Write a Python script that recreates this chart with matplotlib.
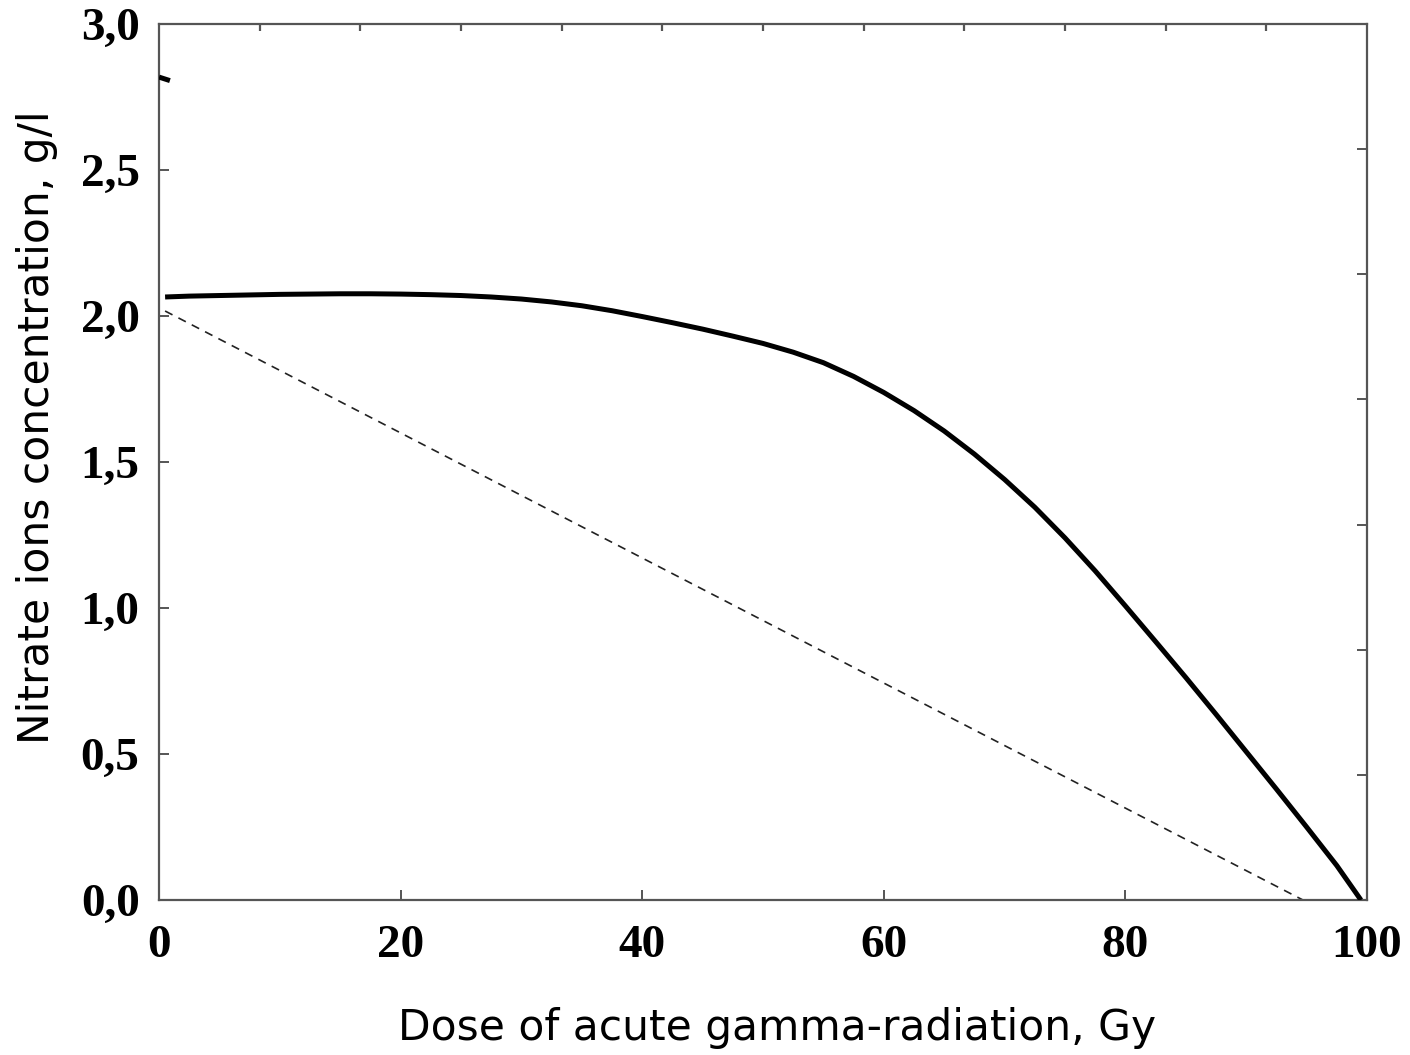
import matplotlib
matplotlib.use("Agg")
import matplotlib.pyplot as plt
import numpy as np

# Data
dose_solid = [0.5, 2.5, 5, 7.5, 10, 12.5, 15, 17.5, 20, 22.5, 25, 27.5, 30, 32.5, 35, 37.5,
              40, 42.5, 45, 47.5, 50, 52.5, 55, 57.5, 60, 62.5, 65, 67.5, 70, 72.5, 75,
              77.5, 80, 82.5, 85, 87.5, 90, 92.5, 95, 97.5, 99.5]
conc_solid = [2.065, 2.068, 2.07, 2.072, 2.074, 2.075, 2.076, 2.076, 2.075, 2.073, 2.07, 2.065,
              2.058, 2.048, 2.035, 2.018, 1.998, 1.977, 1.955, 1.931, 1.906, 1.876, 1.840,
              1.793, 1.738, 1.676, 1.606, 1.527, 1.44, 1.345, 1.24, 1.127, 1.007, 0.885,
              0.762, 0.636, 0.508, 0.38, 0.25, 0.118, 0.0]

dose_dashed = [0.5, 94.7]
conc_dashed = [2.017, 0.0]

dose_frag = [0.0, 0.9]
conc_frag = [2.818, 2.806]

x_ticks = [0, 20, 40, 60, 80, 100]
x_ticklabels = ["0", "20", "40", "60", "80", "100"]
y_ticks = [0.0, 0.5, 1.0, 1.5, 2.0, 2.5, 3.0]
y_ticklabels = ["0,0", "0,5", "1,0", "1,5", "2,0", "2,5", "3,0"]

fig = plt.figure(figsize=(14.1, 10.55), dpi=100)
fig.patch.set_facecolor("white")
ax = fig.add_axes([0.1128, 0.1469, 0.9695 - 0.1128, 0.9773 - 0.1469])

ax.plot(dose_solid, conc_solid, color="black", lw=3.6, solid_capstyle="butt",
        solid_joinstyle="round", zorder=3)
ax.plot(dose_dashed, conc_dashed, color="#222222", lw=1.2, dashes=(5, 4), zorder=2)
ax.plot(dose_frag, conc_frag, color="black", lw=3.6, solid_capstyle="butt", zorder=3)

ax.set_xlim(0, 100)
ax.set_ylim(0, 3)

spine_col = "#555555"
for s in ax.spines.values():
    s.set_color(spine_col)
    s.set_linewidth(1.6)

serif = {"family": "Liberation Serif", "weight": "bold", "size": 34}
ax.set_xticks(x_ticks)
ax.set_xticklabels(x_ticklabels, fontdict=serif)
ax.set_yticks(y_ticks)
ax.set_yticklabels(y_ticklabels, fontdict=serif)
ax.tick_params(axis="both", direction="in", length=7, width=1.4, color=spine_col)
ax.tick_params(axis="x", pad=18)
ax.tick_params(axis="y", pad=14)

# top and right secondary ticks
top = ax.secondary_xaxis("top")
top.set_xticks(np.linspace(0, 100, 13)[1:-1])
top.tick_params(direction="in", length=5, width=1.6, color=spine_col, labeltop=False)
top.spines["top"].set_visible(False)
right = ax.secondary_yaxis("right")
right.set_yticks(np.linspace(0, 3, 8)[1:-1])
right.tick_params(direction="in", length=7, width=1.4, color=spine_col, labelright=False)
right.spines["right"].set_visible(False)

ax.set_xlabel("Dose of acute gamma-radiation, Gy", family="DejaVu Sans", size=30.5)
ax.set_ylabel("Nitrate ions concentration, g/l", family="DejaVu Sans", size=30.5)
ax.xaxis.set_label_coords(0.512, -0.122)
ax.yaxis.set_label_coords(-0.084, 0.54)

fig.savefig("out.png", dpi=100, facecolor="white")
